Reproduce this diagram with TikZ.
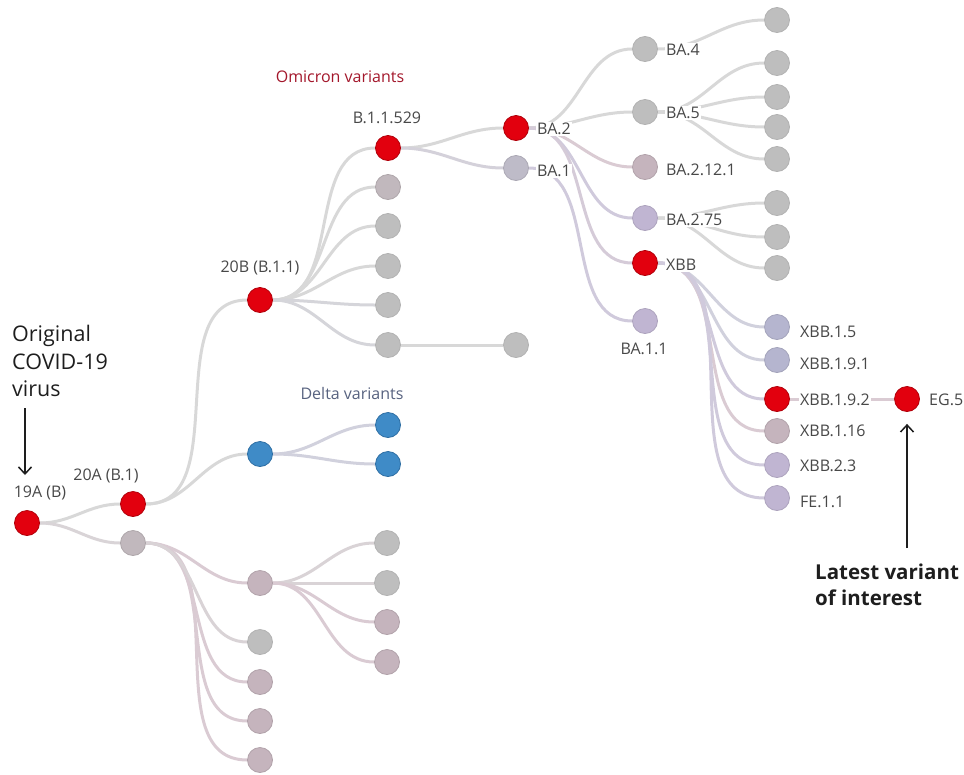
\documentclass[tikz,border=0pt]{standalone}
\usepackage{fontspec}
\setmainfont{Open Sans}
\usetikzlibrary{arrows.meta}
\definecolor{vred}{HTML}{E2000E}
\definecolor{vredd}{HTML}{B0000A}
\definecolor{vgrey}{HTML}{BEBEBE}
\definecolor{vgreyd}{HTML}{B2B2B2}
\definecolor{vmauve}{HTML}{C5B4BD}
\definecolor{vmg}{HTML}{C1B8BD}
\definecolor{vlav}{HTML}{C0B5D2}
\definecolor{vlg}{HTML}{BEBBC8}
\definecolor{vbg}{HTML}{B5B5CF}
\definecolor{vblue}{HTML}{3F8BC7}
\definecolor{vblued}{HTML}{2E6EA3}
\definecolor{egrey}{HTML}{D8D8D8}
\definecolor{epink}{HTML}{DACBD3}
\definecolor{elav}{HTML}{D0CADC}
\definecolor{eblue}{HTML}{D1D1DD}
\definecolor{labc}{HTML}{484848}
\definecolor{omc}{HTML}{A3172B}
\definecolor{dlc}{HTML}{57627F}
\definecolor{txtc}{HTML}{1E1E1E}
\pgfdeclarelayer{bg}
\pgfsetlayers{bg,main}
\begin{document}
\begin{tikzpicture}[x=1pt,y=-1pt,
  dot/.style={circle,minimum size=25pt,inner sep=0pt,line width=0.8pt},
  rdot/.style={dot,fill=vred,draw=vredd},
  gdot/.style={dot,fill=vgrey,draw=vgreyd},
  mdot/.style={dot,fill=vmauve,draw=vmauve!90!black},
  mgdot/.style={dot,fill=vmg,draw=vmg!90!black},
  ldot/.style={dot,fill=vlav,draw=vlav!90!black},
  lgdot/.style={dot,fill=vlg,draw=vlg!90!black},
  bgdot/.style={dot,fill=vbg,draw=vbg!90!black},
  bdot/.style={dot,fill=vblue,draw=vblued},
  lab/.style={font=\fontsize{16}{19}\selectfont,text=labc,inner sep=1pt},
  labw/.style={lab,fill=white},
  ed/.style={line width=3pt,draw=egrey},
  arr/.style={line width=1.5pt,draw=txtc,-{Straight Barb[length=7pt,width=13pt]}},
]
\useasboundingbox (0,0) rectangle (964,774);
% nodes
\node[rdot] (n19A) at (27,523) {};
\node[rdot] (n20A) at (133,504) {};
\node[mgdot] (g1) at (133,543) {};
\node[rdot] (n20B) at (260,300) {};
\node[bdot] (delta) at (260,454) {};
\node[bdot] (d1) at (388,425) {};
\node[bdot] (d2) at (388,464) {};
\node[rdot] (o1) at (388,148) {};
\node[mgdot] (o2) at (388,187) {};
\node[gdot] (o3) at (388,226) {};
\node[gdot] (o4) at (388,266) {};
\node[gdot] (o5) at (388,305) {};
\node[gdot] (o6) at (388,345) {};
\node[gdot] (o7) at (516,345) {};
\node[rdot] (ba2) at (516,128) {};
\node[lgdot] (ba1) at (516,168) {};
\node[gdot] (ba4) at (645,49) {};
\node[gdot] (ba5) at (645,112) {};
\node[mdot] (ba2121) at (645,167) {};
\node[ldot] (ba275) at (645,218) {};
\node[rdot] (xbb) at (645,263) {};
\node[ldot] (ba11) at (645,321) {};
\node[gdot] (r1) at (777,20) {};
\node[gdot] (r2) at (777,63) {};
\node[gdot] (r3) at (777,97) {};
\node[gdot] (r4) at (777,127) {};
\node[gdot] (r5) at (777,159) {};
\node[gdot] (r6) at (777,203) {};
\node[gdot] (r7) at (777,237) {};
\node[gdot] (r8) at (777,268) {};
\node[bgdot] (x1) at (777,327) {};
\node[bgdot] (x2) at (777,360) {};
\node[rdot] (x3) at (777,399) {};
\node[mdot] (x4) at (777,431) {};
\node[ldot] (x5) at (777,465) {};
\node[ldot] (x6) at (777,498) {};
\node[rdot] (eg5) at (907,399) {};
\node[mdot] (m1) at (260,583) {};
\node[gdot] (m2) at (260,642) {};
\node[mdot] (m3) at (260,682) {};
\node[mdot] (m4) at (260,721) {};
\node[mdot] (m5) at (260,760) {};
\node[gdot] (l1) at (387,543) {};
\node[gdot] (l2) at (387,583) {};
\node[mdot] (l3) at (387,622) {};
\node[mdot] (l4) at (387,662) {};
% labels
\node[lab] (t19A) at (40,493) {19A (B)};
\node[lab] (t20A) at (106,476) {20A (B.1)};
\node[lab] (t20B) at (260,268) {20B (B.1.1)};
\node[lab] (t529) at (387,118) {B.1.1.529};
\node[lab,text=omc] (tom) at (340,77) {Omicron variants};
\node[lab,text=dlc] (tdel) at (352,393) {Delta variants};
\node[labw,anchor=west] (tba2) at (536,129) {BA.2};
\node[labw,anchor=west] (tba1) at (536,171) {BA.1};
\node[labw,anchor=west] (tba4) at (665,50) {BA.4};
\node[labw,anchor=west] (tba5) at (665,113) {BA.5};
\node[labw,anchor=west] (tba2121) at (665,170) {BA.2.12.1};
\node[labw,anchor=west] (tba275) at (665,220) {BA.2.75};
\node[labw,anchor=west] (txbb) at (665,265) {XBB};
\node[lab] (tba11) at (644,349) {BA.1.1};
\node[labw,anchor=west] (tx1) at (799,332) {XBB.1.5};
\node[labw,anchor=west] (tx2) at (799,364) {XBB.1.9.1};
\node[labw,anchor=west] (tx3) at (799,400) {XBB.1.9.2};
\node[labw,anchor=west] (tx4) at (799,431) {XBB.1.16};
\node[labw,anchor=west] (tx5) at (799,466) {XBB.2.3};
\node[labw,anchor=west] (tx6) at (799,502) {FE.1.1};
\node[labw,anchor=west] (teg5) at (928,400) {EG.5};
\node[anchor=west,align=left,text=txtc,font=\fontsize{21.5}{27.5}\selectfont,inner sep=0pt] (orig) at (12,361) {Original\\COVID-19\\virus};
\node[anchor=west,align=left,text=txtc,font=\fontsize{20.5}{25.5}\selectfont\bfseries,inner sep=0pt] (latest) at (815,585) {Latest variant\\of interest};
% arrows
\coordinate (a1s) at (25,408);
\coordinate (a1e) at (25,475);
\coordinate (a2s) at (907,548);
\draw[arr] (a1s) -- (a1e);
\draw[arr] (a2s) -- ([yshift=-12pt]eg5.south);
% edges
\begin{pgfonlayer}{bg}
\draw[ed] (n19A) to[out=0,in=180] (n20A);
\draw[ed,draw=egrey!70!epink] (n19A) to[out=0,in=180] (g1);
\draw[ed] (n20A) to[out=0,in=180] (n20B);
\draw[ed] (n20A) to[out=0,in=180] (delta);
\draw[ed,draw=eblue] (delta) to[out=0,in=180] (d1);
\draw[ed,draw=eblue] (delta) to[out=0,in=180] (d2);
\foreach \c in {o1,o2,o3,o4} \draw[ed] (n20B) to[out=0,in=180] (\c);
\foreach \c in {o5,o6} \draw[ed,draw=egrey!60!eblue] (n20B) to[out=0,in=180] (\c);
\draw[ed] (o6) -- (o7);
\draw[ed] (o1) to[out=0,in=180] (ba2);
\draw[ed,draw=egrey!50!elav] (o1) to[out=0,in=180] (ba1);
\draw[ed] (ba2) to[out=0,in=180] (ba4);
\draw[ed] (ba2) to[out=0,in=180] (ba5);
\draw[ed,draw=epink] (ba2) to[out=0,in=180] (ba2121);
\draw[ed,draw=elav] (ba2) to[out=0,in=180] (ba275);
\draw[ed,draw=epink!50!elav] (ba2) to[out=0,in=180] (xbb);
\draw[ed,draw=elav] (ba1) to[out=0,in=180] (ba11);
\draw[ed] (ba4) to[out=0,in=180] (r1);
\foreach \c in {r2,r3,r4,r5} \draw[ed] (ba5) to[out=0,in=180] (\c);
\foreach \c in {r6,r7,r8} \draw[ed] (ba275) to[out=0,in=180] (\c);
\foreach \c in {x1,x2} \draw[ed,draw=eblue] (xbb) to[out=0,in=180] (\c);
\draw[ed,draw=elav] (xbb) to[out=0,in=180] (x3);
\draw[ed,draw=epink] (xbb) to[out=0,in=180] (x4);
\foreach \c in {x5,x6} \draw[ed,draw=elav] (xbb) to[out=0,in=180] (\c);
\draw[ed,draw=epink] (x3) -- (eg5);
\foreach \c in {m1,m3,m4,m5} \draw[ed,draw=epink] (g1) to[out=0,in=180] (\c);
\draw[ed,draw=egrey!60!epink] (g1) to[out=0,in=180] (m2);
\foreach \c in {l1,l2} \draw[ed,draw=egrey!60!epink] (m1) to[out=0,in=180] (\c);
\foreach \c in {l3,l4} \draw[ed,draw=epink] (m1) to[out=0,in=180] (\c);
\end{pgfonlayer}
\end{tikzpicture}
\end{document}
